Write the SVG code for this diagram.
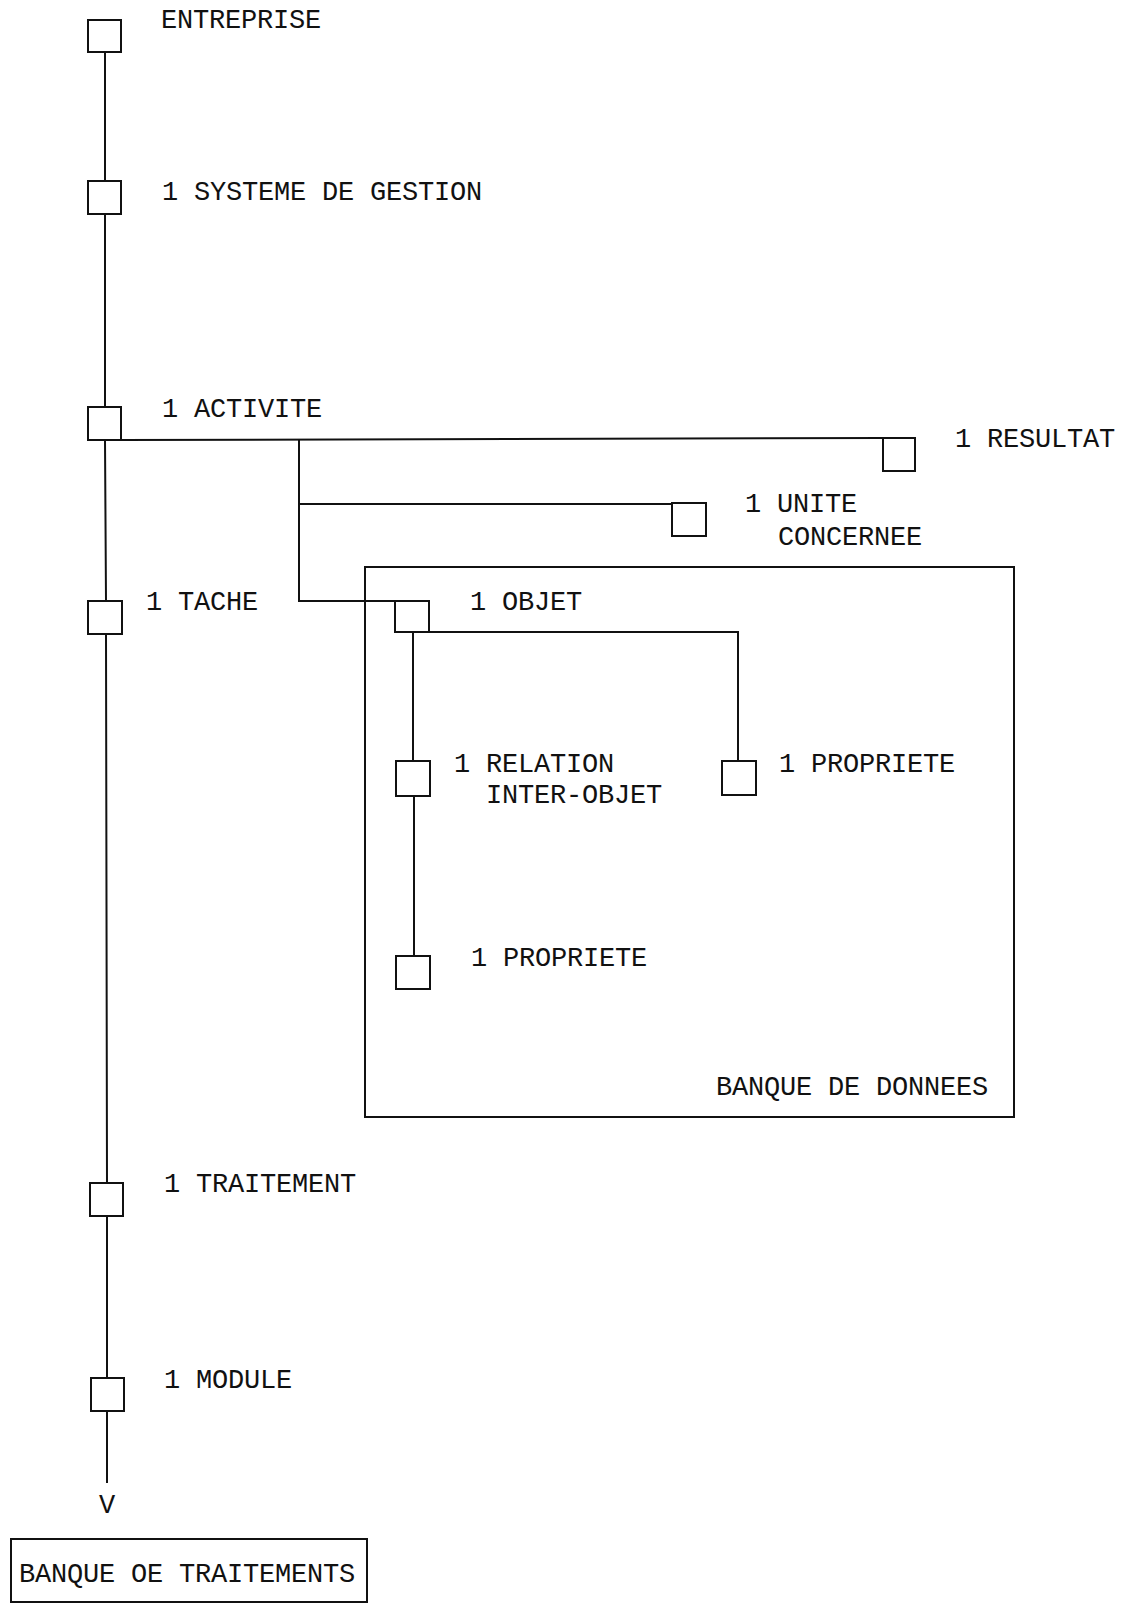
<svg xmlns="http://www.w3.org/2000/svg" width="1122" height="1604" viewBox="0 0 1122 1604">
<style>
.n{fill:none;stroke:#111;stroke-width:2}
.c{fill:none;stroke:#111;stroke-width:2}
.t{font-family:"Liberation Mono","DejaVu Sans Mono",monospace;font-size:27px;letter-spacing:-0.2px;fill:#111}
</style>
<rect width="1122" height="1604" fill="#fff"/>
<g id="connectors">
<path class="c" d="M105 52 V181 M105 214 V407 M105 440 L106 601 M106 634 L107 1183 M107 1216 V1378 M107 1411 V1483"/>
<path class="c" d="M121 440 L883 438"/>
<path class="c" d="M299 440 V601 H395"/>
<path class="c" d="M299 504 H672"/>
<path class="c" d="M429 632 H738 V761"/>
<path class="c" d="M413 632 V761 M414 796 V956"/>
</g>
<g id="banque-donnees">
<rect class="n" x="365" y="567" width="649" height="550"/>
<text class="t" x="716" y="1095">BANQUE DE DONNEES</text>
</g>
<g id="entreprise">
<rect class="n" x="88" y="20" width="33" height="32"/>
<text class="t" x="161" y="28">ENTREPRISE</text>
</g>
<g id="systeme">
<rect class="n" x="88" y="181" width="33" height="33"/>
<text class="t" x="162" y="200">1 SYSTEME DE GESTION</text>
</g>
<g id="activite">
<rect class="n" x="88" y="407" width="33" height="33"/>
<text class="t" x="162" y="417">1 ACTIVITE</text>
</g>
<g id="resultat">
<rect class="n" x="883" y="438" width="32" height="33"/>
<text class="t" x="955" y="447">1 RESULTAT</text>
</g>
<g id="unite">
<rect class="n" x="672" y="503" width="34" height="33"/>
<text class="t" x="745" y="512">1 UNITE</text>
<text class="t" x="778" y="545">CONCERNEE</text>
</g>
<g id="tache">
<rect class="n" x="88" y="601" width="34" height="33"/>
<text class="t" x="146" y="610">1 TACHE</text>
</g>
<g id="objet">
<rect class="n" x="395" y="601" width="34" height="31"/>
<text class="t" x="470" y="610">1 OBJET</text>
</g>
<g id="relation">
<rect class="n" x="396" y="761" width="34" height="35"/>
<text class="t" x="454" y="772">1 RELATION</text>
<text class="t" x="486" y="803">INTER-OBJET</text>
</g>
<g id="propriete-1">
<rect class="n" x="722" y="761" width="34" height="34"/>
<text class="t" x="779" y="772">1 PROPRIETE</text>
</g>
<g id="propriete-2">
<rect class="n" x="396" y="956" width="34" height="33"/>
<text class="t" x="471" y="966">1 PROPRIETE</text>
</g>
<g id="traitement">
<rect class="n" x="90" y="1183" width="33" height="33"/>
<text class="t" x="164" y="1192">1 TRAITEMENT</text>
</g>
<g id="module">
<rect class="n" x="91" y="1378" width="33" height="33"/>
<text class="t" x="164" y="1388">1 MODULE</text>
</g>
<g id="arrow">
<text class="t" x="99" y="1513">V</text>
</g>
<g id="banque-traitements">
<rect class="n" x="11" y="1539" width="356" height="63"/>
<text class="t" x="19" y="1582">BANQUE OE TRAITEMENTS</text>
</g>
</svg>
